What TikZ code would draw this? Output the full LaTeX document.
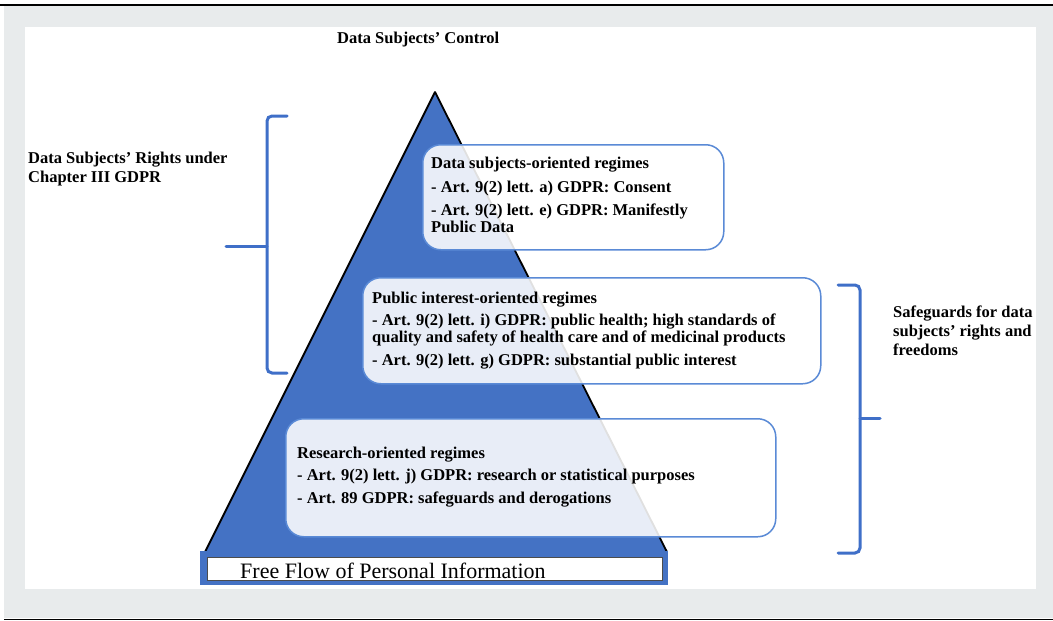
\documentclass[tikz,border=0pt]{standalone}
\usepackage{fontspec}
\setmainfont{Liberation Serif}
\definecolor{bggray}{HTML}{E8EBEC}
\definecolor{tblue}{HTML}{4472C4}
\definecolor{boxblue}{HTML}{5A8AD6}
\definecolor{braceblue}{HTML}{3F6FC8}
\begin{document}
\begin{tikzpicture}[x=1pt,y=-1pt,
  lbl/.style={font=\fontsize{16.5}{17}\selectfont\bfseries, inner sep=0pt, anchor=base west},
  regime/.style={draw=boxblue, line width=1.5pt, fill=white, fill opacity=0.88, draw opacity=1, rounded corners=18pt, anchor=north west, inner sep=0pt},
  bracestyle/.style={draw=braceblue, line width=3pt, rounded corners=5pt, line cap=round}]
\useasboundingbox (0,0) rectangle (1053,621);
% background frame
\fill[bggray] (4,6) rectangle (1053,618);
\fill[white] (25,27) rectangle (1036,589);
\draw[black, line width=2.5pt] (0,5) -- (1053,5);
\draw[black, line width=1.5pt] (4,619.5) -- (1053,619.5);
% pyramid
\coordinate (apex) at (435,92);
\coordinate (bl) at (205,552);
\coordinate (br) at (667,552);
\filldraw[fill=tblue, draw=black, line width=1.8pt, line join=round] (apex) -- (bl) -- (br) -- cycle;
% regime boxes
\node[regime, minimum width=301pt, minimum height=105pt] (box1) at (422,144) {};
\node[regime, minimum width=458pt, minimum height=106pt] (box2) at (362,277) {};
\node[regime, minimum width=490pt, minimum height=118pt] (box3) at (285,418) {};
% box 1 text
\node[lbl] (b1a) at (431,168) {Data subjects-oriented regimes};
\node[lbl] (b1b) at (431,192) {- Art. 9(2) lett. a) GDPR: Consent};
\node[lbl] (b1c) at (431,215) {- Art. 9(2) lett. e) GDPR: Manifestly};
\node[lbl] (b1d) at (431,232) {Public Data};
% box 2 text
\node[lbl] (b2a) at (372,303) {Public interest-oriented regimes};
\node[lbl] (b2b) at (372,325) {- Art. 9(2) lett. i) GDPR: public health; high standards of};
\node[lbl] (b2c) at (372,342) {quality and safety of health care and of medicinal products};
\node[lbl] (b2d) at (372,365) {- Art. 9(2) lett. g) GDPR: substantial public interest};
% box 3 text
\node[lbl] (b3a) at (297,458) {Research-oriented regimes};
\node[lbl] (b3b) at (297,480) {- Art. 9(2) lett. j) GDPR: research or statistical purposes};
\node[lbl] (b3c) at (297,503) {- Art. 89 GDPR: safeguards and derogations};
% base bar
\node[fill=tblue, minimum width=468pt, minimum height=34pt, anchor=north west, inner sep=0pt] (basebar) at (200,551) {};
\node[draw=black!70, line width=0.6pt, fill=white, minimum width=455pt, minimum height=23pt, anchor=north west, inner sep=0pt] (baseinner) at (207,557) {};
\node[font=\fontsize{22}{24}\selectfont, inner sep=0pt, anchor=base west] (flow) at (240,578) {Free Flow of Personal Information};
% title
\node[lbl] (title) at (337,43) {Data Subjects’ Control};
% left label and brace
\node[lbl] (lefta) at (28,163) {Data Subjects’ Rights under};
\node[lbl] (leftb) at (28,182) {Chapter III GDPR};
\coordinate (lbt) at (287,116);
\coordinate (lbb) at (287,373);
\coordinate (lbm) at (267,246);
\coordinate (lbtip) at (226,246);
\draw[bracestyle] (lbt) -- (267,116) -- (267,373) -- (lbb);
\draw[bracestyle, rounded corners=0pt] (lbtip) -- (lbm);
% right label and brace
\node[lbl] (righta) at (893,317) {Safeguards for data};
\node[lbl] (rightb) at (893,336) {subjects’ rights and};
\node[lbl] (rightc) at (893,355) {freedoms};
\coordinate (rbt) at (838,285);
\coordinate (rbb) at (838,553);
\coordinate (rbm) at (860,418);
\coordinate (rbtip) at (880,418);
\draw[bracestyle] (rbt) -- (860,285) -- (860,553) -- (rbb);
\draw[bracestyle, rounded corners=0pt] (rbm) -- (rbtip);
\end{tikzpicture}
\end{document}
